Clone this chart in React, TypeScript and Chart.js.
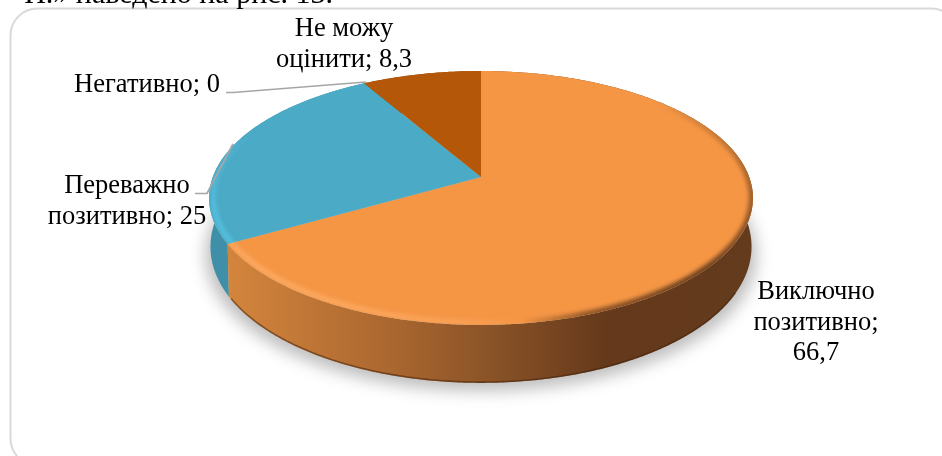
import React, { useEffect, useRef } from "react";
import { Chart, registerables } from "chart.js";

Chart.register(...registerables);

const categories = ["Виключно позитивно", "Переважно позитивно", "Негативно", "Не можу оцінити"];
const values = [66.7, 25, 0, 8.3];
const topColors = ["#F59645", "#4BAAC6", "#A6A6A6", "#B45708"];
const sideColors = ["#C97C38", "#3F8FA8", "#888888", "#8A4406"];
const labelLayouts = [
  { x: 816, y: 299, wrap: 165 },
  { x: 127, y: 193, wrap: 190 },
  { x: 147, y: 92, wrap: 300 },
  { x: 344, y: 36, wrap: 170 },
];
const leaderLines = [
  null,
  [[195, 193.5], [207, 193.5], [233, 144]],
  [[226, 92.5], [233, 92.5], [366, 82]],
  null,
];
const captionText = "Н.» наведено на рис. 13.";

const FONT = '26.5px "Liberation Serif", "Times New Roman", serif';
const K = -0.165; // perspective strength

function project(el: any, angle: number, radiusFactor = 1) {
  const u = Math.cos(angle) * radiusFactor;
  const v = Math.sin(angle) * radiusFactor;
  const w = 1 + K * v;
  return {
    x: el.x + (2.53 * el.outerRadius * u) / w,
    y: el.y + (1.165 * el.outerRadius * v) / w,
    v,
  };
}

function base(el: any, angle: number) {
  const p = project(el, angle);
  return { x: el.x + (p.x - el.x) * 0.995, y: p.y + 47 + 11 * p.v };
}

function samples(a: number, b: number) {
  const n = Math.max(2, Math.ceil(Math.abs(b - a) / 0.01));
  const out: number[] = [];
  for (let i = 0; i <= n; i++) out.push(a + ((b - a) * i) / n);
  return out;
}

function slicePath(ctx: CanvasRenderingContext2D, el: any) {
  ctx.beginPath();
  ctx.moveTo(el.x, el.y);
  for (const t of samples(el.startAngle, el.endAngle)) {
    const p = project(el, t);
    ctx.lineTo(p.x, p.y);
  }
  ctx.closePath();
}

function ringPath(ctx: CanvasRenderingContext2D, el: any, factor: number) {
  ctx.beginPath();
  samples(0, Math.PI * 2).forEach((t, j) => {
    const p = project(el, t, factor);
    if (j) ctx.lineTo(p.x, p.y);
    else ctx.moveTo(p.x, p.y);
  });
  ctx.closePath();
}

const pie3d = {
  id: "pie3d",
  beforeDatasetDraw(chart: any) {
    const ctx: CanvasRenderingContext2D = chart.ctx;
    const els = chart.getDatasetMeta(0).data as any[];
    const first = els[0];
    ctx.save();
    // ground shadow
    ctx.save();
    ctx.filter = "blur(8px)";
    ctx.fillStyle = "rgba(0,0,0,0.26)";
    ctx.beginPath();
    samples(0, Math.PI * 2).forEach((t, i) => {
      const p = base(first, t);
      const x = first.x + (p.x - first.x) * 1.018;
      const y = p.y + 8;
      if (i) ctx.lineTo(x, y);
      else ctx.moveTo(x, y);
    });
    ctx.closePath();
    ctx.fill();
    ctx.restore();

    // side walls, back to front
    [3, 1, 0].forEach((i) => {
      const el = els[i];
      if (!el || el.endAngle - el.startAngle < 1e-4) return;
      const ts = samples(el.startAngle, el.endAngle);
      ctx.beginPath();
      ts.forEach((t, j) => {
        const p = project(el, t);
        if (j) ctx.lineTo(p.x, p.y);
        else ctx.moveTo(p.x, p.y);
      });
      ts.slice().reverse().forEach((t) => {
        const p = base(el, t);
        ctx.lineTo(p.x, p.y);
      });
      ctx.closePath();
      if (i === 0) {
        const g = ctx.createLinearGradient(228, 0, 753, 0);
        g.addColorStop(0, "#D4853C");
        g.addColorStop(0.32, "#A9662F");
        g.addColorStop(0.5, "#8A5327");
        g.addColorStop(0.72, "#65391B");
        g.addColorStop(1, "#643B1D");
        ctx.fillStyle = g;
        ctx.fill();
        // thin dark edge along the lower rim
        ctx.save();
        ctx.beginPath();
        samples(0.5, 2.6).forEach((t, j) => {
          const p = base(el, t);
          if (j) ctx.lineTo(p.x, p.y - 0.8);
          else ctx.moveTo(p.x, p.y - 0.8);
        });
        ctx.strokeStyle = "rgba(70,36,12,0.55)";
        ctx.lineWidth = 1.6;
        ctx.stroke();
        ctx.restore();
      } else {
        ctx.fillStyle = sideColors[i];
        ctx.fill();
      }
    });

    // top faces
    els.forEach((el, i) => {
      if (el.endAngle - el.startAngle < 1e-4) return;
      slicePath(ctx, el);
      ctx.fillStyle = topColors[i];
      ctx.fill();
    });

    // bevel on the front rim
    els.forEach((el, i) => {
      if (el.endAngle - el.startAngle < 1e-4 || i === 3) return;
      ctx.save();
      slicePath(ctx, el);
      ctx.clip();
      ctx.filter = "blur(2px)";
      const cx = el.x;
      const cy = el.y + 21;

      const dark = ctx.createConicGradient(-Math.PI / 2, cx, cy);
      dark.addColorStop(0, "rgba(96,56,26,0)");
      dark.addColorStop(0.17, "rgba(96,56,26,0)");
      dark.addColorStop(0.24, "rgba(96,56,26,0.55)");
      dark.addColorStop(0.3, "rgba(96,56,26,0.95)");
      dark.addColorStop(0.38, "rgba(96,56,26,0.7)");
      dark.addColorStop(0.45, "rgba(96,56,26,0)");
      dark.addColorStop(1, "rgba(96,56,26,0)");
      ringPath(ctx, el, 0.998);
      ctx.strokeStyle = dark;
      ctx.lineWidth = 7;
      ctx.stroke();

      const rgb = i === 1 ? "88,200,232" : "255,176,108";
      const light = ctx.createConicGradient(-Math.PI / 2, cx, cy);
      light.addColorStop(0, `rgba(${rgb},0)`);
      light.addColorStop(0.44, `rgba(${rgb},0)`);
      light.addColorStop(0.53, `rgba(${rgb},0.6)`);
      light.addColorStop(0.68, `rgba(${rgb},0.95)`);
      light.addColorStop(0.74, `rgba(${rgb},0.9)`);
      light.addColorStop(0.8, `rgba(${rgb},0)`);
      light.addColorStop(1, `rgba(${rgb},0)`);
      ringPath(ctx, el, 0.985);
      ctx.strokeStyle = light;
      ctx.lineWidth = 4;
      ctx.stroke();
      ctx.restore();
    });
    ctx.restore();
    return false;
  },
  afterDatasetsDraw(chart: any) {
    const ctx: CanvasRenderingContext2D = chart.ctx;
    ctx.save();
    // leader lines
    ctx.strokeStyle = "#A6A6A6";
    ctx.lineWidth = 1.7;
    leaderLines.forEach((line) => {
      if (!line) return;
      ctx.beginPath();
      line.forEach(([x, y], i) => (i ? ctx.lineTo(x, y) : ctx.moveTo(x, y)));
      ctx.stroke();
    });
    // data labels
    ctx.font = FONT;
    ctx.fillStyle = "#000";
    ctx.textAlign = "center";
    ctx.textBaseline = "alphabetic";
    categories.forEach((name, i) => {
      const text = `${name}; ${String(values[i]).replace(".", ",")}`;
      const { x, y, wrap } = labelLayouts[i];
      const lines: string[] = [];
      let cur = "";
      text.split(" ").forEach((word) => {
        const next = cur ? `${cur} ${word}` : word;
        if (ctx.measureText(next).width > wrap && cur) {
          lines.push(cur);
          cur = word;
        } else cur = next;
      });
      lines.push(cur);
      lines.forEach((l, j) => ctx.fillText(l, x, y + j * 30.7));
    });
    ctx.restore();
  },
};

const frameAndCaption = {
  id: "frameAndCaption",
  beforeDraw(chart: any) {
    const ctx: CanvasRenderingContext2D = chart.ctx;
    ctx.save();
    ctx.fillStyle = "#fff";
    ctx.fillRect(0, 0, 942, 456);
    ctx.beginPath();
    ctx.roundRect(10.5, 8.5, 948, 457, 27);
    ctx.strokeStyle = "#D9D9D9";
    ctx.lineWidth = 2;
    ctx.stroke();
    ctx.font = '30px "Liberation Serif", "Times New Roman", serif';
    ctx.fillStyle = "#000";
    ctx.textAlign = "right";
    ctx.fillText(captionText, 333, 3);
    ctx.restore();
  },
};

export default function App() {
  const ref = useRef<HTMLCanvasElement>(null);
  useEffect(() => {
    const chart = new Chart(ref.current!, {
      type: "pie",
      data: {
        labels: categories,
        datasets: [{ data: values, backgroundColor: topColors, borderWidth: 0 }],
      },
      options: {
        responsive: false,
        animation: false,
        layout: { padding: { left: 375, right: 355, top: 71, bottom: 173 } },
        plugins: { legend: { display: false }, tooltip: { enabled: false } },
      },
      plugins: [frameAndCaption, pie3d],
    } as any);
    return () => chart.destroy();
  }, []);
  return (
    <div style={{ position: "fixed", left: 0, top: 0, width: 942, height: 456, overflow: "hidden" }}>
      <canvas ref={ref} width={942} height={456} style={{ display: "block" }} />
    </div>
  );
}
